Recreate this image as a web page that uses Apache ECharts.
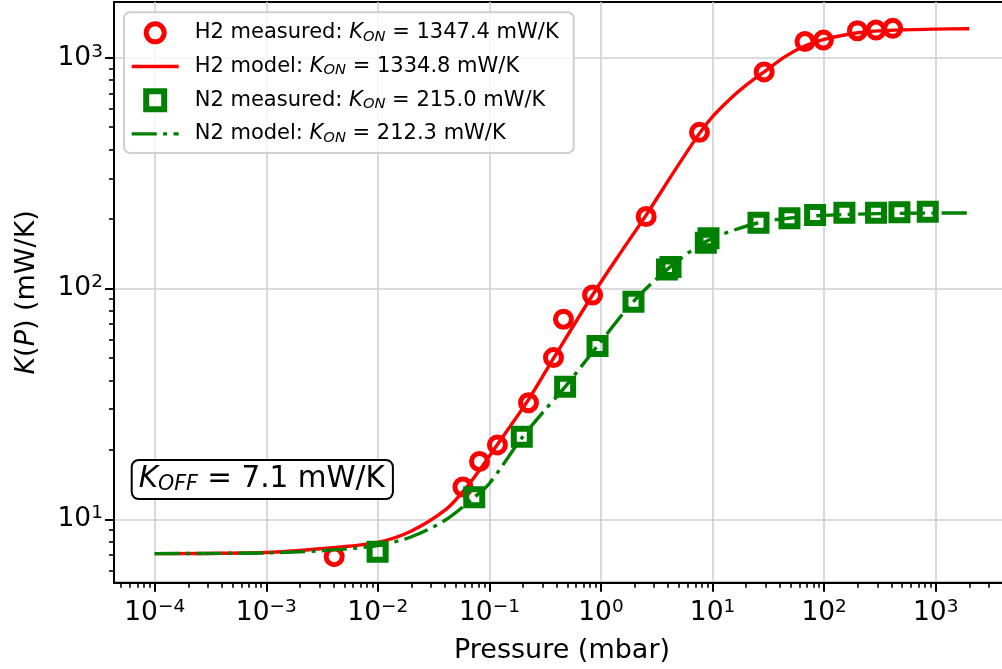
<!DOCTYPE html>
<html><head><meta charset="utf-8">
<script src="https://cdn.jsdelivr.net/npm/echarts@6/dist/echarts.min.js"></script>
<style>html,body{margin:0;padding:0;background:#fff;overflow:hidden}#c{width:1002px;height:669px}</style>
</head><body><div id="c"></div>
<script>
// ---- data ----
const h2MeasuredP = [0.00406, 0.0579, 0.0815, 0.118, 0.224, 0.375, 0.461, 0.84, 2.54, 7.63, 29.0, 67.4, 98.6, 199, 292, 412];
const h2MeasuredK = [6.89, 13.8, 17.8, 21.0, 32.0, 50.2, 73.6, 93.7, 205, 475, 868, 1175, 1192, 1309, 1318, 1340];
const h2ModelP = [1e-4, 1e-3, 3e-3, 1e-2, 2e-2, 4e-2, 0.058, 0.082, 0.118, 0.224, 0.375, 0.84, 1.5, 2.54, 4.5, 7.63, 10, 15, 20, 29, 45, 67, 100, 200, 400, 1000, 2000];
const h2ModelK = [7.10, 7.18, 7.45, 7.95, 8.9, 10.95, 13.2, 16.4, 21.1, 33.0, 49.8, 93.7, 143, 208, 320, 470, 555, 675, 760, 868, 1013, 1123, 1200, 1283, 1314, 1330, 1334.8];
const n2MeasuredP = [0.00995, 0.0731, 0.195, 0.477, 0.931, 1.955, 3.9, 4.2, 8.7, 9.2, 25.8, 48.9, 83, 152, 292, 473, 849];
const n2MeasuredK = [7.24, 12.45, 22.8, 37.5, 56.4, 87.7, 121, 124, 158, 165, 192.8, 201.4, 208.2, 212.8, 213, 214, 215];
const n2ModelP = [1e-4, 1e-3, 3e-3, 1e-2, 2e-2, 4e-2, 0.0731, 0.1, 0.195, 0.3, 0.477, 0.93, 1.95, 4, 9, 26, 50, 100, 300, 1000, 2000];
const n2ModelK = [7.1, 7.15, 7.3, 7.7, 8.4, 9.9, 12.45, 14.3, 22.5, 29, 37.5, 56.4, 87.7, 122, 161, 193, 202, 207.5, 211, 212.2, 212.3];
const seriesNames = ['H2 measured', 'H2 model', 'N2 measured', 'N2 model'];
const konValues = ['1347.4', '1334.8', '215.0', '212.3'];
const koffValue = '7.1';
const xTickExponents = [-4, -3, -2, -1, 0, 1, 2, 3];
const yTickExponents = [1, 2, 3];
const minorMantissas = [2, 3, 4, 5, 6, 7, 8, 9];
const xAxisTitle = 'Pressure (mbar)';

// ---- layout ----
const FONT = 'DejaVu Sans';
const xMin = Math.pow(10, -4.365), xMax = Math.pow(10, 3.666);
const yMin = Math.pow(10, 0.7253), yMax = Math.pow(10, 3.2413);
const RED = '#ff0000', GREEN = '#008000';
const LINE_W = 3.4;
const DASH_DOT = [25, 6.4, 4, 6.4];
const HIDDEN = 'rgba(0,0,0,0)';

function zip(a, b) { return a.map((v, i) => [v, b[i]]); }
function majors(exps) { return exps.map(e => Math.pow(10, e)); }
function minors(lo, hi) {
  const out = [];
  for (let e = Math.floor(Math.log10(lo)); e <= Math.ceil(Math.log10(hi)); e++) {
    minorMantissas.forEach(m => { const v = m * Math.pow(10, e); if (v > lo && v < hi) out.push(v); });
  }
  return out;
}
function powLabel(v) {
  const e = Math.round(Math.log10(v));
  return '{b|10}{e|' + (e < 0 ? '\u2212' + (-e) : String(e)) + '}';
}
const supRich = {
  b: { fontFamily: FONT, fontSize: 26.5, color: '#000' },
  e: { fontFamily: FONT, fontSize: 18.5, color: '#000', padding: [0, 0, 12, 0] }
};

const majorTickStyle = { color: '#000', width: 2 };
const minorTickStyle = { color: '#000', width: 1.6 };
const SQUARE_ICON = 'path://M0,0H10V10H0Z';

const chart = echarts.init(document.getElementById('c'), null, { renderer: 'canvas' });
chart.setOption({
  animation: false,
  backgroundColor: '#fff',
  grid: { left: 114, top: 2, width: 896, height: 580.7, show: true, borderColor: '#000', borderWidth: 2, containLabel: false, outerBoundsMode: 'none' },
  xAxis: [
    {
      type: 'log', logBase: 10, min: xMin, max: xMax, position: 'bottom',
      axisLine: { show: true, lineStyle: { color: '#000', width: 2 } },
      axisTick: { show: true, length: 9, lineStyle: majorTickStyle, customValues: majors(xTickExponents) },
      axisLabel: { show: true, customValues: majors(xTickExponents), formatter: powLabel, rich: supRich, margin: 15 },
      minorTick: { show: false },
      splitLine: { show: true, lineStyle: { color: '#d0d0d0', width: 1.6 } },
      name: xAxisTitle, nameLocation: 'middle', nameGap: 55,
      nameTextStyle: { fontFamily: FONT, fontSize: 27, color: '#000' }
    },
    {
      type: 'log', logBase: 10, min: xMin, max: xMax, position: 'bottom', offset: 0,
      axisLine: { show: false },
      axisTick: { show: true, length: 5, lineStyle: minorTickStyle, customValues: minors(xMin, xMax) },
      axisLabel: { show: false }, splitLine: { show: false }, minorTick: { show: false }
    }
  ],
  yAxis: [
    {
      type: 'log', logBase: 10, min: yMin, max: yMax, position: 'left',
      axisLine: { show: true, lineStyle: { color: '#000', width: 2 } },
      axisTick: { show: true, length: 9, lineStyle: majorTickStyle, customValues: majors(yTickExponents) },
      axisLabel: { show: true, customValues: majors(yTickExponents), formatter: powLabel, rich: supRich, margin: 11 },
      minorTick: { show: false },
      splitLine: { show: true, lineStyle: { color: '#d0d0d0', width: 1.6 } },
      name: '{i|K}({i|P}) (mW/K)', nameLocation: 'middle', nameGap: 74, nameRotate: 90,
      nameTextStyle: { fontFamily: FONT, fontSize: 27, color: '#000',
        rich: { i: { fontFamily: FONT, fontSize: 27, fontStyle: 'italic', color: '#000' } } }
    },
    {
      type: 'log', logBase: 10, min: yMin, max: yMax, position: 'left', offset: 0,
      axisLine: { show: false },
      axisTick: { show: true, length: 5, lineStyle: minorTickStyle, customValues: minors(yMin, yMax) },
      axisLabel: { show: false }, splitLine: { show: false }, minorTick: { show: false }
    }
  ],
  legend: {
    orient: 'vertical', left: 124, top: 12.3,
    padding: [8.5, 15, 7, 6],
    itemWidth: 47, itemHeight: 18, itemGap: 9.7,
    selectedMode: false, symbolKeepAspect: true,
    backgroundColor: 'rgba(255,255,255,0.8)', borderColor: '#cfcfcf', borderWidth: 2, borderRadius: 6,
    data: [
      { name: seriesNames[0], icon: 'circle', itemStyle: { color: HIDDEN, borderColor: RED, borderWidth: 5, opacity: 1 } },
      { name: seriesNames[1], itemStyle: { color: HIDDEN, borderColor: HIDDEN, borderWidth: 0 }, lineStyle: { width: LINE_W, color: RED } },
      { name: seriesNames[2], icon: SQUARE_ICON, itemStyle: { color: HIDDEN, borderColor: GREEN, borderWidth: 6, opacity: 1 } },
      { name: seriesNames[3], itemStyle: { color: HIDDEN, borderColor: HIDDEN, borderWidth: 0 }, lineStyle: { width: LINE_W, color: GREEN, type: DASH_DOT } }
    ],
    formatter: function (name) {
      const i = seriesNames.indexOf(name);
      return '{sp|}' + name + ': {i|K}{sub|ON} = ' + konValues[i] + ' mW/K';
    },
    textStyle: {
      fontFamily: FONT, fontSize: 21, color: '#000', lineHeight: 24,
      rich: {
        sp: { width: 11 },
        i: { fontFamily: FONT, fontSize: 21, fontStyle: 'italic', lineHeight: 24 },
        sub: { fontFamily: FONT, fontSize: 14.7, fontStyle: 'italic', lineHeight: 24, padding: [8, 0, 0, 0] }
      }
    }
  },
  graphic: [{
    type: 'text', left: 130.7, top: 459, z: 100,
    style: {
      text: '{i|K}{sub|OFF} = ' + koffValue + ' mW/K',
      fontFamily: FONT, fontSize: 29.5, fill: '#000',
      rich: {
        i: { fontFamily: FONT, fontSize: 29.5, fontStyle: 'italic' },
        sub: { fontFamily: FONT, fontSize: 20.6, fontStyle: 'italic', padding: [10, 0, 0, 0] }
      },
      backgroundColor: '#fff', borderColor: '#000', borderWidth: 2, borderRadius: 6,
      padding: [3, 7, 3, 6]
    }
  }],
  series: [
    {
      name: seriesNames[0], type: 'scatter', xAxisIndex: 0, yAxisIndex: 0, z: 2,
      data: zip(h2MeasuredP, h2MeasuredK), symbol: 'circle', symbolSize: 16,
      itemStyle: { color: HIDDEN, borderColor: RED, borderWidth: 5, opacity: 1 },
      emphasis: { disabled: true }, silent: true
    },
    {
      name: seriesNames[1], type: 'line', xAxisIndex: 0, yAxisIndex: 0, z: 3,
      data: zip(h2ModelP, h2ModelK), symbol: 'none', showSymbol: false, smooth: 0.3,
      itemStyle: { color: RED }, lineStyle: { color: RED, width: LINE_W },
      emphasis: { disabled: true }, silent: true
    },
    {
      name: seriesNames[2], type: 'scatter', xAxisIndex: 0, yAxisIndex: 0, z: 4,
      data: zip(n2MeasuredP, n2MeasuredK), symbol: 'rect', symbolSize: 16,
      itemStyle: { color: HIDDEN, borderColor: GREEN, borderWidth: 6, opacity: 1 },
      emphasis: { disabled: true }, silent: true
    },
    {
      name: seriesNames[3], type: 'line', xAxisIndex: 0, yAxisIndex: 0, z: 5,
      data: zip(n2ModelP, n2ModelK), symbol: 'none', showSymbol: false, smooth: 0.3,
      itemStyle: { color: GREEN }, lineStyle: { color: GREEN, width: LINE_W, type: DASH_DOT },
      emphasis: { disabled: true }, silent: true
    }
  ]
});
</script></body></html>
